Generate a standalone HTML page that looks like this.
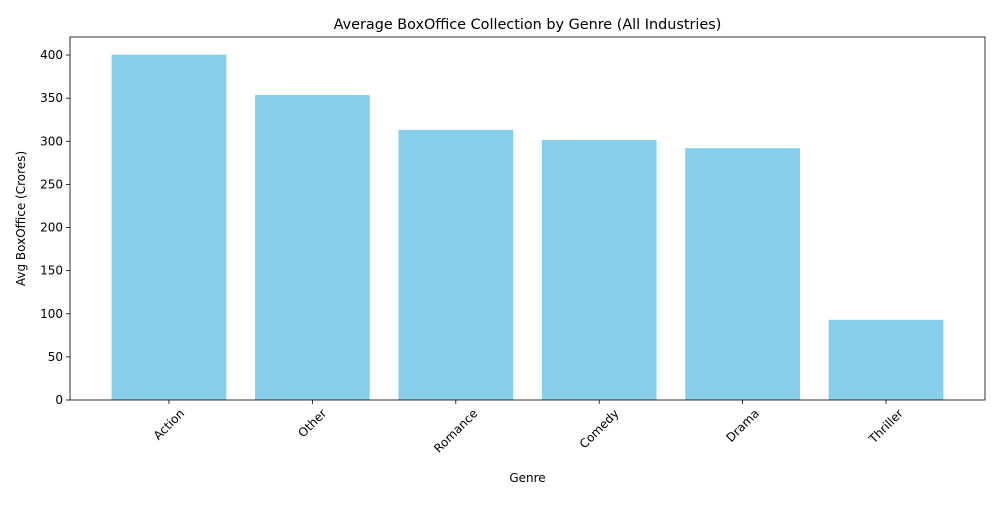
<!DOCTYPE html>
<html><head><meta charset="utf-8"><style>
body{margin:0;background:#fff;font-family:"Liberation Sans","DejaVu Sans",sans-serif}
</style></head><body>
<svg id="chart" width="1000" height="500" xmlns="http://www.w3.org/2000/svg" font-family="DejaVu Sans, Liberation Sans, sans-serif"></svg>
<script>
const categories=["Action","Other","Romance","Comedy","Drama","Thriller"];
const values=[400.5,353.6,313,301.5,292,93];
const yTicks=[0,50,100,150,200,250,300,350,400];
const L=70,R=985,T=37,B=400;
const xMin=-0.69,xMax=5.69,yMax=420.9;
const xs=i=>L+(i-xMin)/(xMax-xMin)*(R-L);
const ys=v=>B-v/yMax*(B-T);
const svg=document.getElementById('chart');
const NS="http://www.w3.org/2000/svg";
function mk(tag,attrs,parent){const e=document.createElementNS(NS,tag);for(const k in attrs)e.setAttribute(k,attrs[k]);(parent||svg).appendChild(e);return e;}
const bw=(0.8/(xMax-xMin))*(R-L);
categories.forEach((c,i)=>{
 const r=mk('rect',{x:xs(i)-bw/2,y:ys(values[i]),width:bw,height:B-ys(values[i]),fill:'#87ceeb'});
 
 
 const tk=mk('line',{x1:xs(i),x2:xs(i),y1:B,y2:B+4,stroke:'#000','stroke-width':0.8});
 
 
 const t=mk('text',{x:0,y:0,'font-size':12,'text-anchor':'middle','dominant-baseline':'central'});
 t.textContent=c;
 
 
 const w=t.getComputedTextLength();
 const cy=B+7+(w+12)*0.7071/2;
 t.setAttribute('transform',`translate(${xs(i)},${cy}) rotate(-45)`);
});
yTicks.forEach(v=>{
 const tk=mk('line',{x1:L-4,x2:L,y1:ys(v),y2:ys(v),stroke:'#000','stroke-width':0.8});
 
 
 const t=mk('text',{x:L-7,y:ys(v)+4,'font-size':12,'text-anchor':'end'});
 t.textContent=v;
 
 
});
const fr=mk('rect',{x:L,y:T,width:R-L,height:B-T,fill:'none',stroke:'#000','stroke-width':0.8});


const ti=mk('text',{x:(L+R)/2,y:29,'font-size':14.4,'text-anchor':'middle'});
ti.textContent='Average BoxOffice Collection by Genre (All Industries)';


const xl=mk('text',{x:(L+R)/2,y:482,'font-size':12,'text-anchor':'middle'});
xl.textContent='Genre';


const yl=mk('text',{x:0,y:0,'font-size':12,'text-anchor':'middle',transform:`translate(25,${(T+B)/2}) rotate(-90)`});
yl.textContent='Avg BoxOffice (Crores)';


</script>
</body></html>
